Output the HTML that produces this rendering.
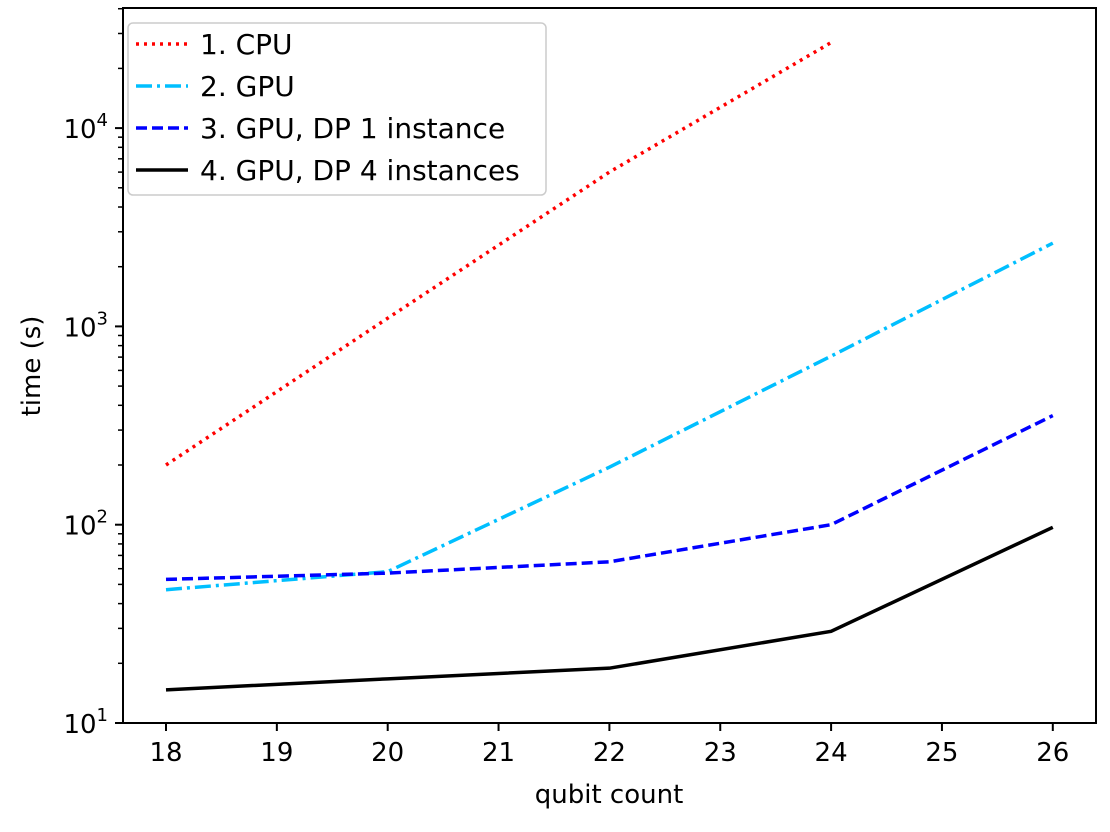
<!DOCTYPE html>
<html><head><meta charset="utf-8"><style>
body{margin:0;background:#fff}
svg text{font-family:"DejaVu Sans","Liberation Sans",sans-serif;fill:#000}
</style></head><body>
<svg id="chart" width="1110" height="827" xmlns="http://www.w3.org/2000/svg">
<g id="grid"></g>
<g id="series"></g>
<rect x="123" y="8" width="973" height="715" fill="none" stroke="#000" stroke-width="2"/>
<g id="ticks"></g>
<text x="609" y="803" font-size="26" text-anchor="middle">qubit count</text>
<text transform="translate(40,366) rotate(-90)" font-size="26" text-anchor="middle">time (s)</text>
<g>
<rect x="128" y="23" width="418" height="172" rx="5" fill="#fff" fill-opacity="0.8" stroke="#ccc" stroke-width="1.5"/>
<line x1="136" y1="44" x2="188" y2="44" stroke="#ff0000" stroke-width="3.5" stroke-dasharray="3,5"/>
<text x="200" y="54" font-size="28">1. CPU</text>
<line x1="136" y1="86" x2="188" y2="86" stroke="#00bfff" stroke-width="3.5" stroke-dasharray="16,5,3,5"/>
<text x="200" y="96" font-size="28">2. GPU</text>
<line x1="136" y1="128" x2="188" y2="128" stroke="#0000ff" stroke-width="3.5" stroke-dasharray="11,5"/>
<text x="200" y="138" font-size="28">3. GPU, DP 1 instance</text>
<line x1="136" y1="170" x2="188" y2="170" stroke="#000" stroke-width="3.5"/>
<text x="200" y="180" font-size="28">4. GPU, DP 4 instances</text>
</g>
</svg>
<script>
const cpuX=[18,20,22,24];
const cpuY=[200,1100,6000,27000];
const gpuX=[18,20,22,24,26];
const gpuY=[47,58,195,708,2630];
const dp1X=[18,20,22,24,26];
const dp1Y=[53,57,65,100,355];
const dp4X=[18,20,22,24,26];
const dp4Y=[14.7,16.7,18.9,29,97];
const xTicks=[18,19,20,21,22,23,24,25,26];
const yDecades=[1,2,3,4];
const NS="http://www.w3.org/2000/svg";
const xs=v=>166+(v-18)*110.85;
const ys=v=>723-(Math.log10(v)-1)*198.3;
function mk(tag,attrs,parent){const e=document.createElementNS(NS,tag);for(const k in attrs)e.setAttribute(k,attrs[k]);parent.appendChild(e);return e;}
const tk=document.getElementById('ticks'),sr=document.getElementById('series');
xTicks.forEach(t=>{
  const l=mk('line',{x1:xs(t),x2:xs(t),y1:723,y2:731,stroke:'#000','stroke-width':2},tk);
  
  
  const tx=mk('text',{x:xs(t),y:761,'font-size':26,'text-anchor':'middle'},tk);
  
  
  tx.textContent=t;
});
yDecades.forEach(d=>{
  const y=ys(Math.pow(10,d));
  const l=mk('line',{x1:115,x2:123,y1:y,y2:y,stroke:'#000','stroke-width':2},tk);
  
  
  const tx=mk('text',{x:108,y:y+10,'font-size':26,'text-anchor':'end'},tk);
  
  
  tx.innerHTML='10<tspan dy="-12" font-size="18">'+d+'</tspan>';
  for(let m=2;m<=9;m++){const v=m*Math.pow(10,d);const yy=ys(v);if(yy<8)continue;
    const ml=mk('line',{x1:118,x2:123,y1:yy,y2:yy,stroke:'#000','stroke-width':1.5},tk);
    
    }
});
function series(X,Y,name,color,dash){
  const p=mk('polyline',{points:X.map((x,i)=>xs(x)+','+ys(Y[i])).join(' '),fill:'none',stroke:color,'stroke-width':3.5,'stroke-dasharray':dash},sr);
  
  
}
series(cpuX,cpuY,'cpu-line','#ff0000','3,5');
series(gpuX,gpuY,'gpu-line','#00bfff','16,5,3,5');
series(dp1X,dp1Y,'dp1-line','#0000ff','11,5');
series(dp4X,dp4Y,'dp4-line','#000','none');
</script>
</body></html>
